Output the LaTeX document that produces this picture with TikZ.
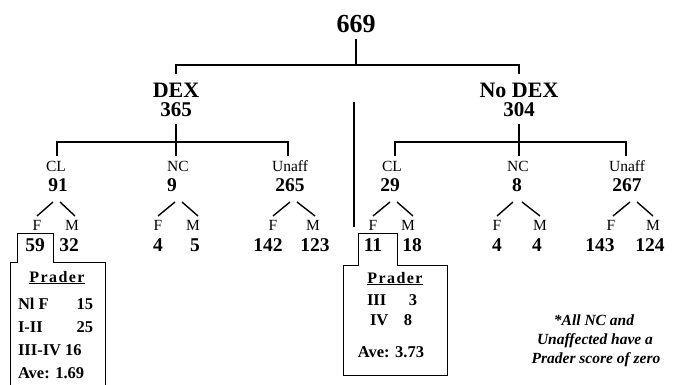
\documentclass[tikz,border=0pt]{standalone}
\usepackage{fontspec}
\setmainfont{Liberation Serif}
\newfontfamily\spacedfont[LetterSpace=9]{Liberation Serif}
\begin{document}
\begin{tikzpicture}[x=1pt,y=-1pt,
  txt/.style={inner sep=0pt,outer sep=0pt,anchor=center,text depth=0pt},
  big/.style={txt,text height=18pt,font=\fontsize{26}{26}\selectfont\bfseries},
  lvl/.style={txt,text height=14.5pt,font=\fontsize{22}{22}\selectfont\bfseries},
  lvln/.style={txt,text height=14pt,font=\fontsize{21}{21}\selectfont\bfseries},
  lab/.style={txt,text height=10.5pt,font=\fontsize{15.5}{15.5}\selectfont},
  num/.style={txt,text height=13pt,font=\fontsize{19.5}{19.5}\selectfont\bfseries},
  row/.style={txt,text height=11pt,font=\fontsize{16.5}{16.5}\selectfont\bfseries},
  rowl/.style={row,anchor=west},
  prad/.style={txt,text height=11pt,text depth=3pt,font=\spacedfont\fontsize{16}{16}\selectfont\bfseries},
  note/.style={txt,text height=10.5pt,text depth=3pt,font=\fontsize{15.5}{15.5}\selectfont\bfseries\itshape},
  tree/.style={line width=1.6pt},
  branch/.style={line width=1.4pt},
  box/.style={line width=0.8pt}]
\useasboundingbox (0,0) rectangle (680,385);

% top level
\node[big] (n669) at (356,24) {669};
\node[lvl] (dex) at (176,90) {DEX};
\node[lvln] (dexn) at (176,110) {365};
\node[lvl] (nodex) at (519,90) {No DEX};
\node[lvln] (nodexn) at (519,110) {304};

\coordinate (t0) at (356,39);
\coordinate (t1) at (356,65);
\coordinate (dexTop) at (176,74);
\coordinate (nodexTop) at (519,74);
\draw[tree] (t0) -- (t1);
\draw[tree] (dexTop) |- (t1) -| (nodexTop);

% divider
\coordinate (divA) at (354,102);
\coordinate (divB) at (354,227);
\draw[tree] (divA) -- (divB);

% DEX subtree
\coordinate (dexS) at (176,124);
\coordinate (dexB) at (176,142);
\coordinate (lclTop) at (57,156);
\coordinate (lncTop) at (176,156);
\coordinate (lunTop) at (288,156);
\draw[tree] (dexS) -- (lncTop);
\draw[tree] (lclTop) |- (dexB) -| (lunTop);

% No DEX subtree
\coordinate (ndS) at (519,124);
\coordinate (ndB) at (519,142);
\coordinate (rclTop) at (395,156);
\coordinate (rncTop) at (519,156);
\coordinate (runTop) at (626,156);
\draw[tree] (ndS) -- (rncTop);
\draw[tree] (rclTop) |- (ndB) -| (runTop);

% level-2 labels
\node[lab] (lcl) at (56,166.5) {CL};
\node[num] (lcln) at (58,184.5) {91};
\node[lab] (lnc) at (178,166.5) {NC};
\node[num] (lncn) at (172,184.5) {9};
\node[lab] (lun) at (290,166.5) {Unaff};
\node[num] (lunn) at (290,184.5) {265};

\node[lab] (rcl) at (392,166.5) {CL};
\node[num] (rcln) at (390,184.5) {29};
\node[lab] (rnc) at (518,166.5) {NC};
\node[num] (rncn) at (517,184.5) {8};
\node[lab] (run) at (627,166.5) {Unaff};
\node[num] (runn) at (627,184.5) {267};

% branches
\foreach \nm/\a/\b/\c/\d in {lc/53/60/37/75, ln/175/182/158/198, lu/290/297/273/315,
                              rc/390/397/373/413, rn/513/522/497/540, ru/630/637/613/653}{
  \coordinate (\nm LA) at (\a,202);
  \coordinate (\nm RA) at (\b,202);
  \coordinate (\nm LB) at (\c,216);
  \coordinate (\nm RB) at (\d,216);
  \draw[branch] (\nm LA) -- (\nm LB);
  \draw[branch] (\nm RA) -- (\nm RB);
}

% F / M labels and counts
\node[lab] (lcF) at (37,225) {F};
\node[lab] (lcM) at (72,225) {M};
\node[num] (lcFn) at (35,245) {59};
\node[num] (lcMn) at (69,245) {32};
\node[lab] (lnF) at (158,225) {F};
\node[lab] (lnM) at (193,225) {M};
\node[num] (lnFn) at (158,245) {4};
\node[num] (lnMn) at (195,245) {5};
\node[lab] (luF) at (273,225) {F};
\node[lab] (luM) at (313,225) {M};
\node[num] (luFn) at (268,245) {142};
\node[num] (luMn) at (315,245) {123};

\node[lab] (rcF) at (373,225) {F};
\node[lab] (rcM) at (408,225) {M};
\node[num] (rcFn) at (373,245) {11};
\node[num] (rcMn) at (412,245) {18};
\node[lab] (rnF) at (497,225) {F};
\node[lab] (rnM) at (540,225) {M};
\node[num] (rnFn) at (497,245) {4};
\node[num] (rnMn) at (537,245) {4};
\node[lab] (ruF) at (611,225) {F};
\node[lab] (ruM) at (653,225) {M};
\node[num] (ruFn) at (600,245) {143};
\node[num] (ruMn) at (650,245) {124};

% left Prader box
\draw[box] (10,390) -- (10,262) -- (17,262) -- (17,233) -- (53,233) -- (53,262) -- (105,262) -- (105,390);
\node[prad] (lpr) at (57,278) {\underline{Prader}};
\node[rowl] (lr1) at (18,304) {Nl F};
\node[row,anchor=east] (lr1n) at (93,304) {15};
\node[rowl] (lr2) at (18,327) {I-II};
\node[row,anchor=east] (lr2n) at (93,327) {25};
\node[rowl] (lr3) at (18,350) {III-IV 16};
\node[rowl] (lr4) at (18,373) {Ave: 1.69};

% right Prader box
\draw[box] (343,375) -- (343,265) -- (358,265) -- (358,233) -- (397,233) -- (397,265) -- (447,265) -- (447,375) -- cycle;
\node[prad] (rpr) at (395,279) {\underline{Prader}};
\node[rowl] (rr1) at (367,300) {III};
\node[row] (rr1n) at (413,300) {3};
\node[rowl] (rr2) at (370,320) {IV};
\node[row] (rr2n) at (408,320) {8};
\node[row] (rr3) at (391,352) {Ave: 3.73};

% note
\node[note] (note1) at (594,322) {*All NC and};
\node[note] (note2) at (595,341) {Unaffected have a};
\node[note] (note3) at (596,360) {Prader score of zero};
\end{tikzpicture}
\end{document}
